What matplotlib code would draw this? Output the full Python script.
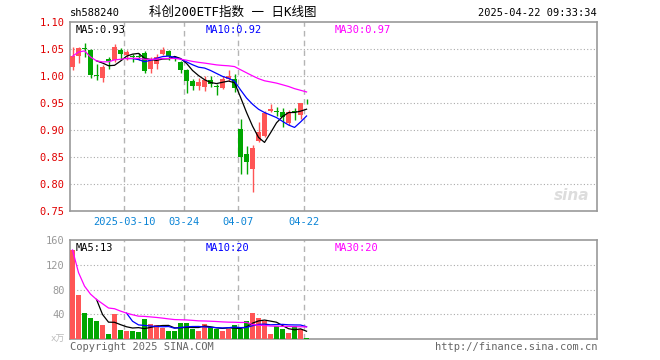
import matplotlib
matplotlib.use("Agg")
import matplotlib.pyplot as plt
import numpy as np
import pandas as pd

plt.rcParams['font.family'] = ['DejaVu Sans Mono', 'Noto Sans CJK SC']

# daily K-line data, 2025-02-25 .. 2025-04-22
opens = [1.016, 1.037, 1.052, 1.047, 1.002, 0.995, 1.031, 1.030, 1.048, 1.038,
         1.037, 1.036, 1.043, 1.012, 1.022, 1.040, 1.046, 1.033, 1.025, 1.010,
         0.990, 0.982, 0.980, 0.993, 0.981, 0.978, 0.994, 0.994, 0.901, 0.855,
         0.827, 0.880, 0.888, 0.935, 0.934, 0.933, 0.912, 0.934, 0.928, 0.952]
highs = [1.053, 1.054, 1.061, 1.049, 1.022, 1.020, 1.034, 1.058, 1.051, 1.047,
         1.040, 1.042, 1.045, 1.035, 1.040, 1.053, 1.048, 1.037, 1.028, 1.012,
         0.994, 0.996, 0.999, 0.999, 0.985, 1.000, 1.010, 1.003, 0.921, 0.870,
         0.872, 0.914, 0.935, 0.948, 0.942, 0.940, 0.936, 0.940, 0.950, 0.958]
lows = [1.011, 1.024, 1.035, 0.996, 0.993, 0.989, 1.013, 1.026, 1.030, 1.030,
        1.026, 1.030, 1.005, 1.005, 1.013, 1.038, 1.030, 1.028, 1.005, 0.968,
        0.974, 0.974, 0.972, 0.980, 0.965, 0.975, 0.990, 0.970, 0.819, 0.819,
        0.785, 0.877, 0.887, 0.933, 0.925, 0.906, 0.909, 0.919, 0.920, 0.948]
closes = [1.036, 1.052, 1.050, 1.001, 0.999, 1.016, 1.027, 1.054, 1.040, 1.044,
          1.035, 1.034, 1.009, 1.029, 1.035, 1.048, 1.036, 1.031, 1.010, 0.990,
          0.982, 0.989, 0.993, 0.984, 0.980, 0.994, 1.000, 0.978, 0.849, 0.840,
          0.867, 0.896, 0.932, 0.938, 0.933, 0.924, 0.933, 0.933, 0.950, 0.951]
volumes = [144, 71, 42, 34, 30, 23, 9, 41, 15, 13,
           13, 12, 33, 25, 23, 18, 13, 13, 26, 26,
           17, 13, 25, 20, 17, 13, 17, 23, 17, 30,
           43, 35, 30, 8.5, 21, 16, 10, 21, 16, 2]
tick_idx = [9, 19, 28, 39]
tick_labels = ['2025-03-10', '03-24', '04-07', '04-22']

RED = '#ff5555'
GREEN = '#00a600'
GRID = '#aaaaaa'
BORDER = '#999999'

df = pd.DataFrame({'o': opens, 'h': highs, 'l': lows, 'c': closes, 'v': volumes})
x = np.arange(len(df))
up = df['c'] >= df['o']
colors = [RED if u else GREEN for u in up]

ma5 = df['c'].rolling(5).mean()
ma10 = df['c'].rolling(10).mean()
ma30 = df['c'].rolling(30, min_periods=1).mean()
vma5 = df['v'].rolling(5).mean()
vma10 = df['v'].rolling(10).mean()
vma30 = df['v'].rolling(30, min_periods=1).mean()

fig = plt.figure(figsize=(6.6, 3.6), dpi=100)
ax = fig.add_axes([70 / 660, 1 - 211 / 360, 527 / 660, 189.3 / 360])
axv = fig.add_axes([70 / 660, 1 - 339.3 / 360, 527 / 660, 99.3 / 360])

xlim = (-0.42, 87.4)
vx = [i - 0.4 for i in tick_idx]

# price panel
ax.vlines(x, df['l'], df['h'], colors=colors, lw=1, zorder=3)
body = np.maximum((df['c'] - df['o']).abs(), 0.0012)
ax.bar(x, body, bottom=np.minimum(df['o'], df['c']), width=0.83,
       color=colors, zorder=4)
ax.plot(x, ma5, color='black', lw=0.9, zorder=5)
ax.plot(x, ma10, color='#0000ff', lw=0.9, zorder=5)
ax.plot(x, ma30, color='#ff00ff', lw=0.9, zorder=5)

ax.set_xlim(*xlim)
ax.set_ylim(0.75, 1.10)
yt = [0.75, 0.80, 0.85, 0.90, 0.95, 1.00, 1.05, 1.10]
ax.set_yticks(yt)
ax.set_yticklabels(['%.2f' % v for v in yt], color='#e00000', fontsize=7.5)
for v in yt[1:-1]:
    ax.axhline(v, color=GRID, lw=0.8, ls=(0, (1, 2)), zorder=1)
for v in vx:
    ax.axvline(v, color='#b4b4b4', lw=1, ls=(0, (4, 3)), zorder=1)
ax.set_xticks(vx)
ax.set_xticklabels(tick_labels, color='#0a84d6', fontsize=7.5)
ax.tick_params(length=0, pad=4)
for s in ax.spines.values():
    s.set_color(BORDER)
    s.set_linewidth(1.2)

ax.text(0.01, 0.985, 'MA5:0.93', transform=ax.transAxes, fontsize=7.5,
        color='black', va='top')
ax.text(0.257, 0.985, 'MA10:0.92', transform=ax.transAxes, fontsize=7.5,
        color='#0000ff', va='top')
ax.text(0.503, 0.985, 'MA30:0.97', transform=ax.transAxes, fontsize=7.5,
        color='#ff00ff', va='top')
ax.text(0.985, 0.04, 'sina', transform=ax.transAxes, fontsize=11,
        color='#dddddd', ha='right', va='bottom', style='italic',
        weight='bold', family='DejaVu Sans')

# volume panel
axv.bar(x, df['v'], width=0.83, color=colors, zorder=3)
axv.plot(x, vma5, color='black', lw=0.9, zorder=5)
axv.plot(x, vma10, color='#0000ff', lw=0.9, zorder=5)
axv.plot(x, vma30, color='#ff00ff', lw=0.9, zorder=5)
axv.set_xlim(*xlim)
axv.set_ylim(0, 160)
axv.set_yticks([40, 80, 120, 160])
axv.set_yticklabels(['40', '80', '120', '160'], color='#999999', fontsize=7.5)
for v in [40, 80, 120]:
    axv.axhline(v, color=GRID, lw=0.8, ls=(0, (1, 2)), zorder=1)
for v in vx:
    axv.axvline(v, color='#b4b4b4', lw=1, ls=(0, (4, 3)), zorder=1)
axv.set_xticks([])
axv.tick_params(length=0, pad=4)
for s in axv.spines.values():
    s.set_color(BORDER)
    s.set_linewidth(1.2)

axv.text(0.01, 0.97, 'MA5:13', transform=axv.transAxes, fontsize=7.5,
         color='black', va='top')
axv.text(0.257, 0.97, 'MA10:20', transform=axv.transAxes, fontsize=7.5,
         color='#0000ff', va='top')
axv.text(0.503, 0.97, 'MA30:20', transform=axv.transAxes, fontsize=7.5,
         color='#ff00ff', va='top')

# header / footer
fig.text(70 / 660, 1 - 13 / 360, 'sh588240', fontsize=7.5, va='center')
fig.text(233 / 660, 1 - 12 / 360, '科创200ETF指数 一 日K线图', fontsize=9,
         ha='center', va='center')
fig.text(597 / 660, 1 - 13 / 360, '2025-04-22 09:33:34', fontsize=7.5,
         ha='right', va='center')
fig.text(70 / 660, 1 - 347 / 360, 'Copyright 2025 SINA.COM', fontsize=7.5,
         color='#666666', va='center')
fig.text(597 / 660, 1 - 347 / 360, 'http://finance.sina.com.cn', fontsize=7.5,
         color='#666666', ha='right', va='center')
fig.text(65 / 660, 1 - 339 / 360, 'x万', fontsize=6.5, color='#bbbbbb',
         ha='right', va='center')

fig.savefig('out.png', dpi=100, facecolor='white')
